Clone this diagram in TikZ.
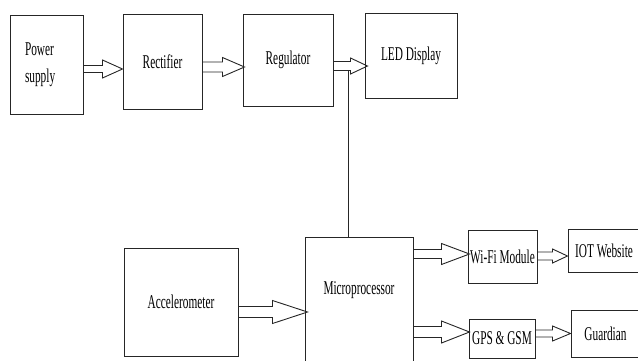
\documentclass[tikz,border=0pt]{standalone}
\usepackage{fontspec}
\setmainfont{Liberation Serif}[FakeStretch=0.58]
\usepackage{tikz}
\usetikzlibrary{calc, positioning}

\begin{document}
\begin{tikzpicture}[
    x=1pt, y=-1pt,
    every node/.style={font=\fontsize{19.5}{27}\selectfont},
    block/.style={rectangle, draw=black!85, line width=1pt,
                  inner sep=0pt, align=center},
    hollow/.style n args={3}{draw=black!85, line width=0.9pt,
      to path={let \p1=(\tikztostart), \p2=(\tikztotarget) in
        (\x1,{\y2+#1}) -- ({\x2-#3},{\y2+#1}) -- ({\x2-#3},{\y2+#2})
        -- (\x2,\y2) -- ({\x2-#3},{\y2-#2}) -- ({\x2-#3},{\y2-#1})
        -- (\x1,{\y2-#1})}},
  ]
    \useasboundingbox (0,0) rectangle (638,360);

    % top row
    \node[block, minimum width=73pt, minimum height=99pt, text width=43pt, align=left]
      (psu) at (46.5,64.5) {Power\\supply};
    \node[block, minimum width=79pt, minimum height=95pt]
      (rect) at (162.5,61.5) {Rectifier};
    \node[block, minimum width=90pt, minimum height=92pt]
      (reg) at (288,60) {Regulator};
    \node[block, minimum width=92pt, minimum height=85pt]
      (led) at (411,55.5) {LED Display};

    % bottom part
    \node[block, minimum width=114pt, minimum height=108pt]
      (accel) at (181,302) {Accelerometer};
    \node[block, minimum width=108pt, minimum height=143pt, text depth=41pt]
      (mcu) at (359,308.5) {Microprocessor};
    \node[block, minimum width=69pt, minimum height=53pt]
      (wifi) at (502.5,256.5) {Wi-Fi Module};
    \node[block, minimum width=66pt, minimum height=39pt]
      (gps) at (502,338.5) {GPS \& GSM};
    \node[block, minimum width=72pt, minimum height=43pt]
      (iot) at (604,250.5) {IOT Website};
    \node[block, minimum width=69pt, minimum height=47pt]
      (guard) at (605.5,333.5) {Guardian};

    \draw[hollow={3.5pt}{9pt}{20pt}] ([yshift=-2pt]psu.east) to ([yshift=-7.5pt]rect.west);
    \draw[hollow={5pt}{9.5pt}{22pt}] (rect.east) to ([xshift=2pt,yshift=-7pt]reg.west);
    \draw[hollow={4.5pt}{8pt}{17pt}] (reg.east) to ([xshift=3pt,yshift=-10.5pt]led.west);
    \draw[hollow={5.5pt}{11.5pt}{35pt}] (accel.east) to ([xshift=3pt,yshift=-3.5pt]mcu.west);
    \draw[hollow={4.5pt}{10.5pt}{28pt}] (mcu.east) to ([xshift=2pt,yshift=2.5pt]wifi.west);
    \draw[hollow={5.5pt}{11pt}{28pt}] (mcu.east) to ([xshift=1pt,yshift=6.5pt]gps.west);
    \draw[hollow={4pt}{7pt}{15pt}] (wifi.east) to ([yshift=-5.5pt]iot.west);
    \draw[hollow={3.5pt}{7.5pt}{18pt}] (gps.east) to (guard.west);

    % supply line down to the microprocessor
    \coordinate (tap) at (348,70);
    \draw[black!85, line width=0.9pt] (tap) -- (tap |- mcu.north);
\end{tikzpicture}
\end{document}
